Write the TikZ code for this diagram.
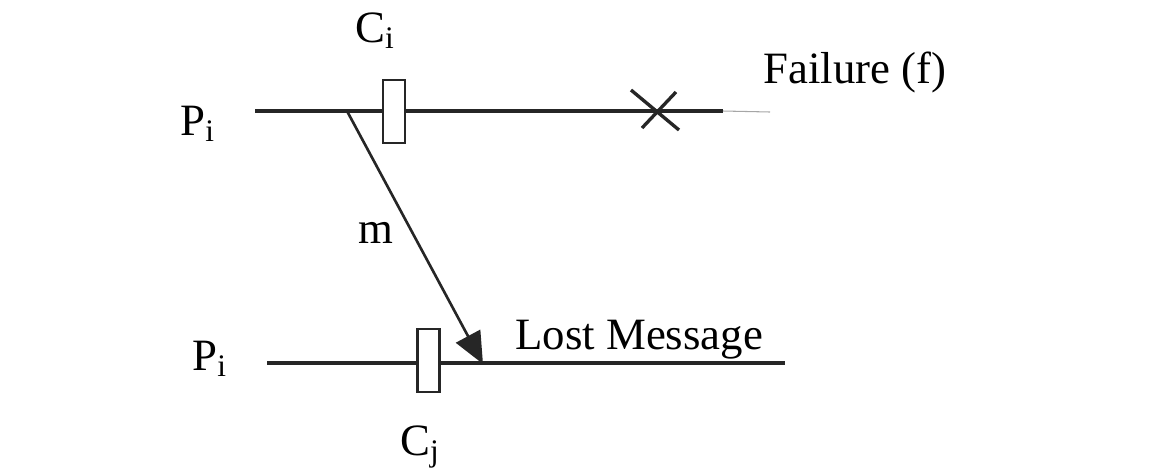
\documentclass[tikz,border=0pt]{standalone}
\usepackage{fontspec}
\setmainfont{Liberation Serif}
\usetikzlibrary{arrows.meta}
\begin{document}
\begin{tikzpicture}[x=0.02cm,y=-0.02cm,
  proc/.style={line width=1.9pt,draw=black!85},
  ckpt/.style={draw=black!85,line width=1.6pt,fill=white,minimum width=0.44cm,minimum height=1.26cm,inner sep=0pt},
  lbl/.style={font=\fontsize{25.5}{28}\selectfont,anchor=base west,inner sep=0pt},
  msg/.style={line width=1.5pt,draw=black!85,-{Triangle[length=18pt,width=15.5pt]}}]
\useasboundingbox (0,0) rectangle (1150,468);
% process lines
\coordinate (t0) at (255,111);
\coordinate (t1) at (723,111);
\coordinate (t2) at (770,112);
\coordinate (b0) at (267,363);
\coordinate (b1) at (785,363);
\draw[proc] (t0) -- (t1);
\draw[gray!70,line width=0.6pt] (t1) -- (t2);
\draw[proc] (b0) -- (b1);
% message
\coordinate (ms) at (347,111);
\coordinate (me) at (483,364);
\draw[msg] (ms) -- (me);
% checkpoints
\node[ckpt] (ci) at (394,111.5) {};
\node[ckpt] (cj) at (428.5,360.5) {};
% failure
\coordinate (x1) at (631,90);
\coordinate (x2) at (679,130);
\coordinate (x3) at (676,92);
\coordinate (x4) at (642,128);
\draw[line width=1.9pt,black!85] (x1) -- (x2) (x3) -- (x4);
% labels
\node[lbl] (lci) at (355,42) {C\textsubscript{i}};
\node[lbl] (lpt) at (180,135) {P\textsubscript{i}};
\node[lbl] (lfail) at (763,83) {Failure (f)};
\node[lbl] (lm) at (358,243) {m};
\node[lbl] (llost) at (515,349) {Lost Message};
\node[lbl] (lpb) at (192,370) {P\textsubscript{i}};
\node[lbl] (lcj) at (400,455) {C\textsubscript{j}};
\end{tikzpicture}
\end{document}
